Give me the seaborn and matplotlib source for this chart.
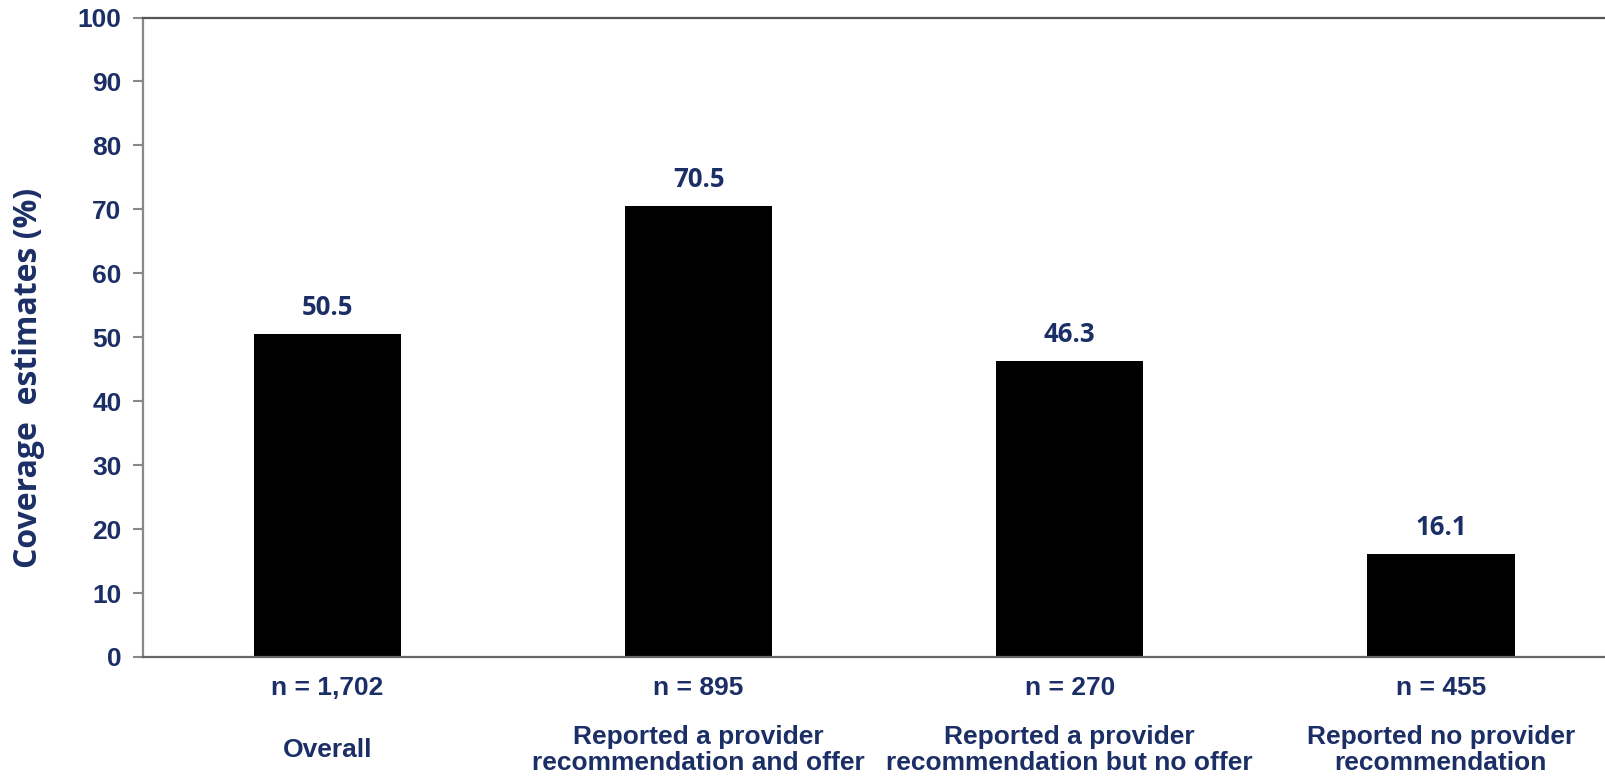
import matplotlib
matplotlib.use("Agg")
import matplotlib.pyplot as plt
import matplotlib.transforms as mtransforms
import seaborn as sns
import pandas as pd

categories = ["Overall",
              "Reported a provider\nrecommendation and offer",
              "Reported a provider\nrecommendation but no offer",
              "Reported no provider\nrecommendation"]
sample_sizes = ["n = 1,702", "n = 895", "n = 270", "n = 455"]
coverage = [50.5, 70.5, 46.3, 16.1]
yticks = list(range(0, 101, 10))

navy = "#1B2F66"

sns.set_theme(style="white")
plt.rcParams['font.family'] = ['Liberation Sans', 'DejaVu Sans']

df = pd.DataFrame({"cat": categories, "val": coverage})

fig = plt.figure(figsize=(16.06, 7.77), dpi=100)
ax = fig.add_axes([143/1606, 1-657/777, 1-143/1606, (657-17.5)/777])

sns.barplot(data=df, x="cat", y="val", color="black", width=0.397,
            saturation=1, ax=ax, edgecolor="none")

ax.set_xlim(-0.497, 3.445)
ax.set_ylim(0, 100)
ax.set_yticks(yticks)
ax.set_yticklabels([str(t) for t in yticks], fontsize=19, fontweight="bold", color=navy)
ax.set_xticks([])
ax.set_xlabel("")
ax.set_ylabel("Coverage  estimates (%)", fontsize=23, fontweight="bold", color=navy,
              family=["Open Sans", "DejaVu Sans"])
ax.yaxis.set_label_coords(-0.067, 0.436)

ax.tick_params(axis="y", which="both", left=True, length=7.5, width=1.5, color="#888888", pad=8)

for side in ["left", "bottom", "top"]:
    ax.spines[side].set_visible(True)
    ax.spines[side].set_linewidth(1.6)
ax.spines["left"].set_color("#888888")
ax.spines["bottom"].set_color("#666666")
ax.spines["top"].set_color("#555555")
ax.spines["right"].set_visible(False)

for i, v in enumerate(coverage):
    ax.annotate(f"{v:.1f}", xy=(i, v), xytext=(0, 19), textcoords="offset points",
                ha="center", va="center", fontsize=18.5, fontweight="bold", color=navy,
                family=["Open Sans", "DejaVu Sans"])

trans = mtransforms.blended_transform_factory(ax.transData, ax.transAxes)
for i, (n, c) in enumerate(zip(sample_sizes, categories)):
    ax.text(i, -0.0485, n, transform=trans, ha="center", va="center",
            fontsize=19, fontweight="bold", color=navy)
    ax.text(i, -0.1454, c, transform=trans, ha="center", va="center",
            fontsize=19, fontweight="bold", color=navy, linespacing=1.1)

fig.savefig("out.png", dpi=100, facecolor="white")
